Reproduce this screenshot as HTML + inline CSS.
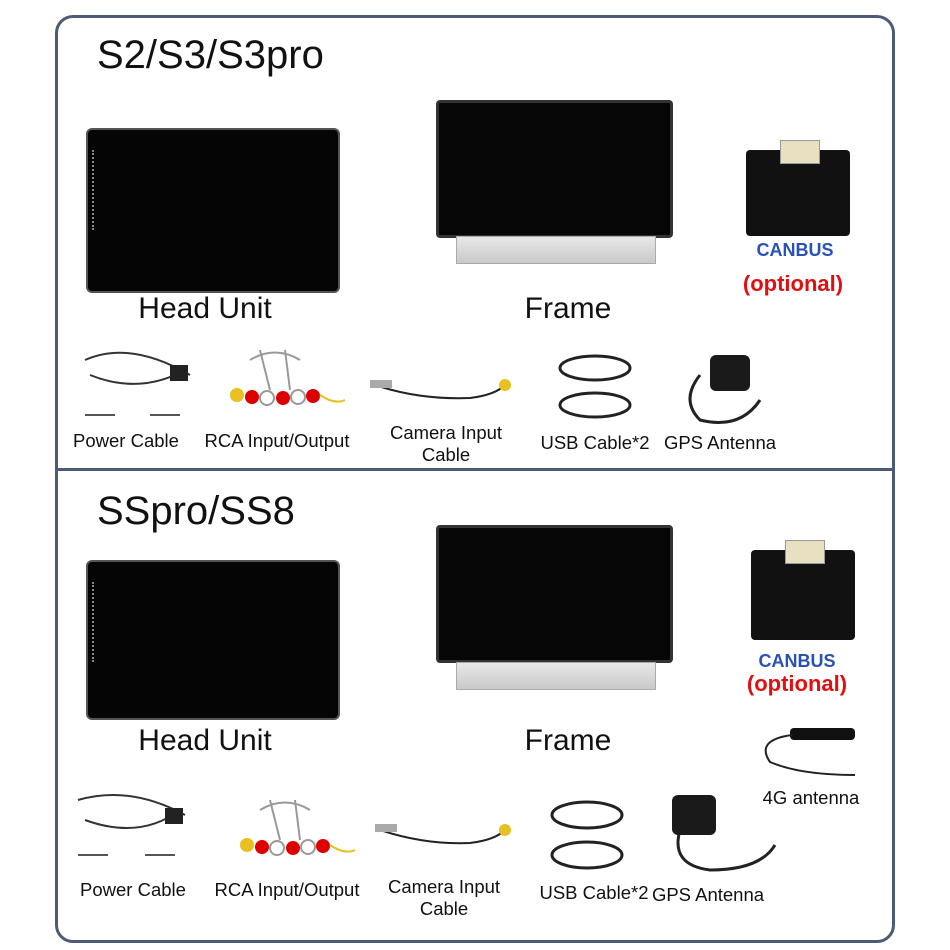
<!DOCTYPE html>
<html><head><meta charset="utf-8"><style>
*{margin:0;padding:0;box-sizing:border-box}
body{width:950px;height:950px;background:#fff;position:relative;overflow:hidden;font-family:"Liberation Sans",sans-serif}
.abs{position:absolute}
.frame{left:55px;top:15px;width:840px;height:928px;border:3px solid #4d5b78;border-radius:18px}
.div{left:56px;top:468px;width:838px;height:3px;background:#4d5b78}
.title{font-size:40px;color:#111;left:97px}
.big{font-size:30px;color:#111;text-align:center;width:240px}
.sm{font-size:18.5px;color:#111;text-align:center;width:180px;line-height:22px}
.hu{background:#050505;border:2px solid #555;border-radius:6px}
.hu:before{content:"";position:absolute;left:4px;top:20px;width:4px;height:80px;border-left:2px dotted #888}
.scr{background:#060606;border:3px solid #333;border-radius:4px}
.brk{background:linear-gradient(#e8e8e8,#c9c9c9);border:1px solid #aaa}
.box{background:#111;border-radius:4px}
.can{font-size:18px;font-weight:bold;color:#2a52b5;text-align:center;width:120px}
.opt{font-size:22px;font-weight:bold;color:#e01010;text-align:center;width:140px}
</style></head><body>
<div class="abs frame"></div>
<div class="abs div"></div>

<div class="abs title" style="top:33px">S2/S3/S3pro</div>
<div class="abs title" style="top:489px">SSpro/SS8</div>

<div class="abs hu" style="left:86px;top:128px;width:254px;height:165px"></div>
<div class="abs scr" style="left:436px;top:100px;width:237px;height:138px"></div>
<div class="abs brk" style="left:456px;top:236px;width:200px;height:28px"></div>
<div class="abs box" style="left:746px;top:150px;width:104px;height:86px"></div>
<div class="abs" style="left:780px;top:140px;width:40px;height:24px;background:#e8e0c0;border:1px solid #999"></div>
<div class="abs can" style="left:735px;top:240px">CANBUS</div>
<div class="abs opt" style="left:723px;top:271px">(optional)</div>
<div class="abs big" style="left:85px;top:292px">Head Unit</div>
<div class="abs big" style="left:448px;top:292px">Frame</div>

<svg class="abs" style="left:0;top:0" width="950" height="950">
<g fill="none" stroke-width="2">
<path d="M85 360 Q130 340 190 375 M90 375 Q140 395 185 370" stroke="#333"/>
<rect x="170" y="365" width="18" height="16" fill="#222"/>
<path d="M85 415 h30 M150 415 h30" stroke="#555"/>
<g stroke="#999"><path d="M250 360 Q275 345 300 360 M260 350 L270 390 M285 350 L290 390"/></g>
<g fill="#d00" stroke="none"><circle cx="237" cy="395" r="7" fill="#e8c020"/><circle cx="252" cy="397" r="7"/><circle cx="267" cy="398" r="7" fill="#fff" stroke="#999"/><circle cx="283" cy="398" r="7"/><circle cx="298" cy="397" r="7" fill="#fff" stroke="#999"/><circle cx="313" cy="396" r="7"/></g>
<path d="M320 395 Q335 405 345 400" stroke="#e8c020"/>
<path d="M375 385 Q420 400 470 398 Q495 395 505 385" stroke="#222"/>
<circle cx="505" cy="385" r="6" fill="#e8c020" stroke="none"/>
<rect x="370" y="380" width="22" height="8" fill="#aaa" stroke="none"/>
<ellipse cx="595" cy="368" rx="35" ry="12" stroke="#222" stroke-width="3"/>
<ellipse cx="595" cy="405" rx="35" ry="12" stroke="#222" stroke-width="3"/>
<path d="M700 375 Q680 400 700 420 Q740 430 760 400" stroke="#222" stroke-width="3"/>
<rect x="710" y="355" width="40" height="36" rx="6" fill="#1a1a1a" stroke="none"/>
<path d="M78 800 Q130 785 185 815 M85 820 Q140 840 180 810" stroke="#333"/>
<rect x="165" y="808" width="18" height="16" fill="#222"/>
<path d="M78 855 h30 M145 855 h30" stroke="#555"/>
<g stroke="#999"><path d="M260 810 Q285 795 310 810 M270 800 L280 840 M295 800 L300 840"/></g>
<g fill="#d00" stroke="none"><circle cx="247" cy="845" r="7" fill="#e8c020"/><circle cx="262" cy="847" r="7"/><circle cx="277" cy="848" r="7" fill="#fff" stroke="#999"/><circle cx="293" cy="848" r="7"/><circle cx="308" cy="847" r="7" fill="#fff" stroke="#999"/><circle cx="323" cy="846" r="7"/></g>
<path d="M330 845 Q345 855 355 850" stroke="#e8c020"/>
<path d="M380 830 Q425 845 470 843 Q495 840 505 830" stroke="#222"/>
<circle cx="505" cy="830" r="6" fill="#e8c020" stroke="none"/>
<rect x="375" y="824" width="22" height="8" fill="#aaa" stroke="none"/>
<ellipse cx="587" cy="815" rx="35" ry="13" stroke="#222" stroke-width="3"/>
<ellipse cx="587" cy="855" rx="35" ry="13" stroke="#222" stroke-width="3"/>
<path d="M680 830 Q670 865 710 870 Q760 870 775 845" stroke="#222" stroke-width="3"/>
<rect x="672" y="795" width="44" height="40" rx="6" fill="#1a1a1a" stroke="none"/>
<rect x="790" y="728" width="65" height="12" rx="4" fill="#111" stroke="none"/>
<path d="M792 735 Q755 740 770 762 Q800 775 855 775" stroke="#222" stroke-width="2"/>
</g></svg>

<div class="abs sm" style="left:36px;top:430px">Power Cable</div>
<div class="abs sm" style="left:187px;top:430px">RCA Input/Output</div>
<div class="abs sm" style="left:356px;top:422px">Camera Input<br>Cable</div>
<div class="abs sm" style="left:505px;top:432px">USB Cable*2</div>
<div class="abs sm" style="left:630px;top:432px">GPS Antenna</div>

<div class="abs hu" style="left:86px;top:560px;width:254px;height:160px"></div>
<div class="abs scr" style="left:436px;top:525px;width:237px;height:138px"></div>
<div class="abs brk" style="left:456px;top:662px;width:200px;height:28px"></div>
<div class="abs box" style="left:751px;top:550px;width:104px;height:90px"></div>
<div class="abs" style="left:785px;top:540px;width:40px;height:24px;background:#e8e0c0;border:1px solid #999"></div>
<div class="abs can" style="left:737px;top:651px">CANBUS</div>
<div class="abs opt" style="left:727px;top:671px">(optional)</div>
<div class="abs big" style="left:85px;top:724px">Head Unit</div>
<div class="abs big" style="left:448px;top:724px">Frame</div>
<div class="abs sm" style="left:721px;top:787px">4G antenna</div>

<div class="abs sm" style="left:43px;top:879px">Power Cable</div>
<div class="abs sm" style="left:197px;top:879px">RCA Input/Output</div>
<div class="abs sm" style="left:354px;top:876px">Camera Input<br>Cable</div>
<div class="abs sm" style="left:504px;top:882px">USB Cable*2</div>
<div class="abs sm" style="left:618px;top:884px">GPS Antenna</div>
</body></html>
